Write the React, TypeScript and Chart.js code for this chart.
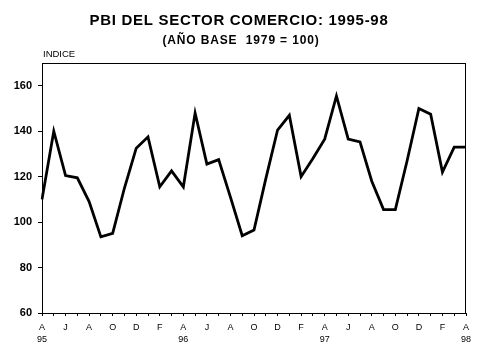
import React, { useEffect, useRef } from "react";
import { Chart, registerables } from "chart.js";

Chart.register(...registerables);

const months = ["A","M","J","J","A","S","O","N","D","E","F","M","A","M","J","J","A","S","O","N","D","E","F","M","A","M","J","J","A","S","O","N","D","E","F","M","A"];
const years: Record<number, string> = { 0: "95", 12: "96", 24: "97", 36: "98" };
const values = [110, 140, 120.5, 119.5, 109, 93.5, 95, 115, 132.5, 137.5, 115.5, 122.5, 115.5, 148, 125.5, 127.5, 111, 94, 96.5, 119, 140.5, 147, 120, 128, 136.5, 155.5, 136.5, 135.3, 118, 105.5, 105.5, 127, 150, 147.5, 122, 133, 133];

const titleText = "PBI DEL SECTOR COMERCIO: 1995-98";
const subtitleText = "(AÑO BASE  1979 = 100)";
const yAxisLabel = "INDICE";

const FONT = "'Liberation Sans', Arial, sans-serif";

export default function App() {
  const ref = useRef<HTMLCanvasElement | null>(null);
  useEffect(() => {
    document.body.style.margin = "0";
    const canvas = ref.current;
    if (!canvas) return;
    const textPlugin = {
      id: "texts",
      afterDraw(chart: any) {
        const ctx = chart.ctx;
        const a = chart.chartArea;
        ctx.save();
        ctx.fillStyle = "#000";
        ctx.textBaseline = "alphabetic";
        ctx.textAlign = "center";
        ctx.font = `bold 15px ${FONT}`;
        (ctx as any).letterSpacing = "0.7px";
        ctx.fillText(titleText, 239, 25);
        ctx.font = `bold 12px ${FONT}`;
        (ctx as any).letterSpacing = "0.85px";
        ctx.fillText(subtitleText, 241, 44);
        (ctx as any).letterSpacing = "0px";
        ctx.textAlign = "left";
        ctx.font = `9.5px ${FONT}`;
        ctx.fillText(yAxisLabel, 43, 57);
        ctx.strokeStyle = "#000";
        ctx.lineWidth = 1;
        ctx.strokeRect(Math.round(a.left) + 0.5, Math.round(a.top) + 0.5, Math.round(a.right - a.left) - 1, Math.round(a.bottom - a.top));
        ctx.restore();
      },
    };
    const chart = new Chart(canvas, {
      type: "line",
      data: {
        labels: months,
        datasets: [
          {
            data: values,
            borderColor: "#000",
            borderWidth: 2.8,
            pointRadius: 0,
            tension: 0,
            fill: false,
          },
        ],
      },
      options: {
        animation: false,
        responsive: false,
        events: [],
        layout: { padding: { top: 63, right: 13, left: 0, bottom: 0 } },
        plugins: { legend: { display: false }, title: { display: false }, tooltip: { enabled: false } },
        scales: {
          x: {
            offset: false,
            afterFit(scale: any) { scale.height = 46; },
            grid: { display: true, drawOnChartArea: false, drawTicks: true, tickLength: 3, color: "#000" },
            border: { display: true, color: "#000", width: 1 },
            ticks: {
              autoSkip: false,
              maxRotation: 0,
              padding: 5,
              color: "#000",
              font: { family: FONT, size: 9, lineHeight: 1.4 },
              callback(value: any, index: number) {
                if (index % 2 !== 0) return "";
                const m = months[index];
                return years[index] ? [m, years[index]] : m;
              },
            },
          },
          y: {
            min: 60,
            max: 170,
            afterFit(scale: any) { scale.width = 42; },
            grid: { display: true, drawOnChartArea: false, drawTicks: true, tickLength: 4, color: "#000" },
            border: { display: true, color: "#000", width: 1 },
            ticks: {
              stepSize: 20,
              includeBounds: false,
              padding: 6,
              color: "#000",
              font: { family: FONT, size: 11, weight: "bold" },
            },
          },
        },
      },
      plugins: [textPlugin],
    } as any);
    return () => chart.destroy();
  }, []);
  return (
    <div style={{ width: 479, height: 359, background: "#fff" }}>
      <canvas ref={ref} width={479} height={359} />
    </div>
  );
}
